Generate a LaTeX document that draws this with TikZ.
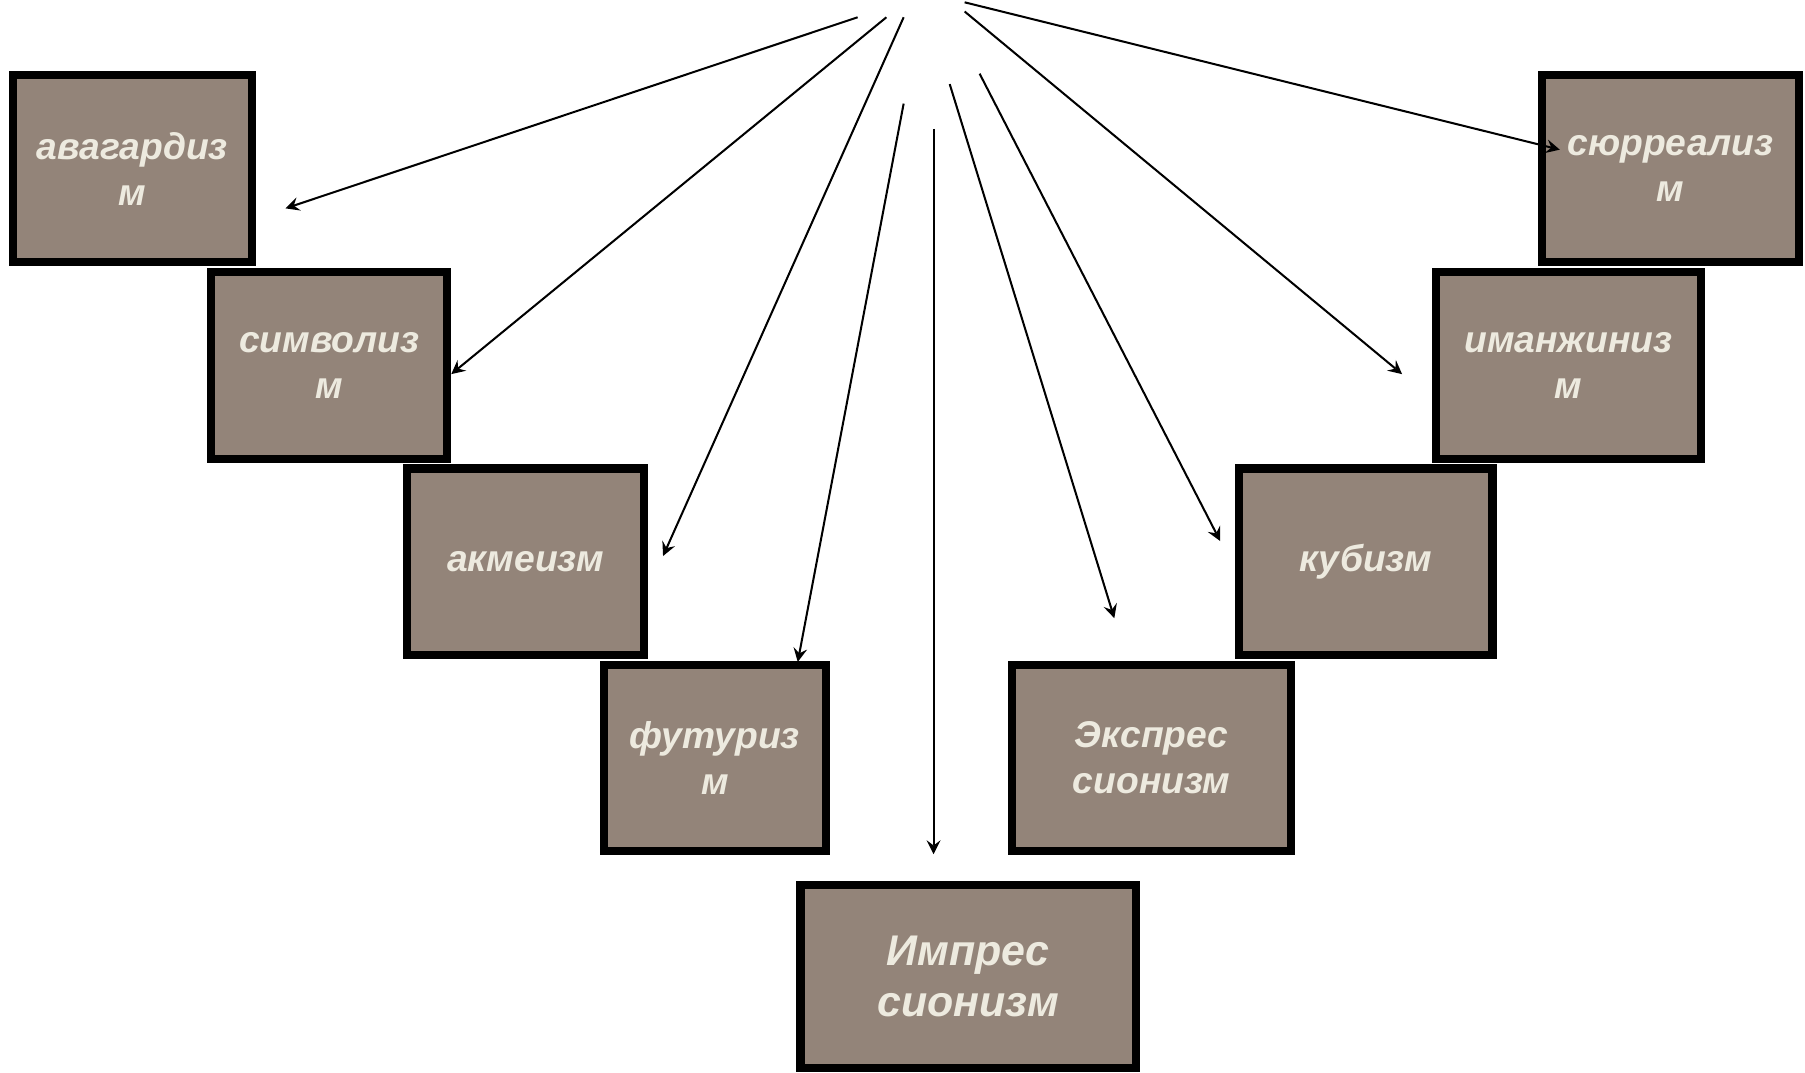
\documentclass[tikz,border=0pt]{standalone}
\usepackage{fontspec}
\setmainfont{Liberation Sans}
\usepackage{xcolor}
\usepackage{tikz}
\usetikzlibrary{arrows, positioning}
\definecolor{boxfill}{HTML}{938479}
\definecolor{boxtext}{HTML}{EDEADF}
\tikzstyle{movement} = [rectangle, minimum height=1.62cm, text centered, draw=black, line width=2pt, fill=boxfill, text=boxtext, align=center, font=\fontsize{9.2}{11.4}\selectfont\bfseries\itshape]
\tikzstyle{arrow} = [line width=0.5pt,->,>=stealth]

\begin{document}
\begin{tikzpicture}[x=0.01cm, y=-0.01cm]
            \useasboundingbox (0,0) rectangle (1568,932);
            \node[movement, minimum width=2.07cm] (avant) at (115,146.5) {авагардиз\\м};
            \node[movement, minimum width=2.05cm] (symb) at (286,317.5) {символиз\\м};
            \node[movement, minimum width=2.06cm] (akme) at (456.5,488) {акмеизм};
            \node[movement, minimum width=1.93cm] (futur) at (621,658.5) {футуриз\\м};
            \node[movement, minimum width=2.91cm, minimum height=1.59cm, font=\fontsize{10.6}{12.6}\selectfont\bfseries\itshape] (impr) at (841,848) {Импрес\\сионизм};
            \node[movement, minimum width=2.42cm] (expr) at (1000.5,658.5) {Экспрес\\сионизм};
            \node[movement, minimum width=2.20cm] (cub) at (1186.5,488) {кубизм};
            \node[movement, minimum width=2.30cm] (imag) at (1362.5,317.5) {иманжиниз\\м};
            \node[movement, minimum width=2.23cm] (surr) at (1451,146.5) {сюрреализ\\м};

            % free ends of the arrows
            \coordinate (avant-s) at (745,15);  \coordinate (avant-e) at (248,181);
            \coordinate (symb-s) at (770,15);   \coordinate (symb-e) at (392,325);
            \coordinate (akme-s) at (785,15);   \coordinate (akme-e) at (576,483);
            \coordinate (futur-s) at (785,90);  \coordinate (futur-e) at (693,575);
            \coordinate (impr-s) at (811,112);  \coordinate (impr-e) at (811,742);
            \coordinate (expr-s) at (825,73);   \coordinate (expr-e) at (968,537);
            \coordinate (cub-s) at (851,64);    \coordinate (cub-e) at (1060,470);
            \coordinate (imag-s) at (838,10);   \coordinate (imag-e) at (1218,325);
            \coordinate (surr-s) at (838,2);    \coordinate (surr-e) at (1355,130);

            \draw[arrow] (avant-s) -- (avant-e);
            \draw[arrow] (symb-s) -- (symb-e);
            \draw[arrow] (akme-s) -- (akme-e);
            \draw[arrow] (futur-s) -- (futur-e);
            \draw[arrow] (impr-s) -- (impr-e);
            \draw[arrow] (expr-s) -- (expr-e);
            \draw[arrow] (cub-s) -- (cub-e);
            \draw[arrow] (imag-s) -- (imag-e);
            \draw[arrow] (surr-s) -- (surr-e);
        \end{tikzpicture}
\end{document}
